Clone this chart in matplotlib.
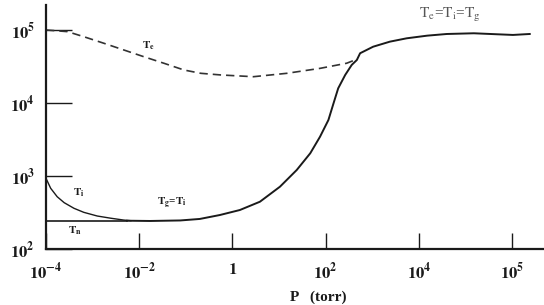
import numpy as np
import matplotlib
matplotlib.use("Agg")
import matplotlib.pyplot as plt

plt.rcParams['mathtext.fontset'] = 'stix'
plt.rcParams['font.family'] = ['Liberation Serif', 'DejaVu Serif']

# pressure (torr) and temperature (K)
# gas / ion temperature, which joins the electron one at high pressure
p_tg = [10**-2.26, 10**-1.77, 10**-1.12, 10**-0.70, 10**-0.27, 10**0.16, 10**0.59,
        10**1.02, 10**1.38, 10**1.67, 10**1.88, 10**2.06, 10**2.17, 10**2.27,
        10**2.42, 10**2.56, 10**2.67, 10**2.74, 10**3.02, 10**3.38, 10**3.74,
        10**4.09, 10**4.30, 10**4.59, 10**4.84, 10**5.01, 10**5.19]
t_tg = [244, 242, 246, 258, 292, 342, 444, 713, 1208, 2046, 3451, 5848, 9910,
        15890, 24200, 33200, 38800, 48000, 59000, 69200, 76900, 83600, 88100,
        90100, 87300, 85500, 88100]

# electron temperature (dashed)
p_te = [1e-4, 10**-3.54, 10**-3.19, 10**-2.76, 10**-2.33, 10**-1.90, 10**-1.47,
        10**-1.04, 10**-0.68, 10**-0.25, 10**0.45, 10**1.17, 10**1.88, 10**2.45,
        10**2.63]
t_te = [100000, 94900, 80900, 65800, 53200, 43000, 35000, 28300, 25500, 24200,
        22900, 25500, 29800, 35000, 38800]

# ion temperature at low pressure
p_ti = [1e-4, 10**-3.90, 10**-3.76, 10**-3.61, 10**-3.40, 10**-3.19, 10**-2.90,
        10**-2.61, 10**-2.33, 10**-2.18]
t_ti = [929, 679, 520, 431, 361, 318, 283, 264, 249, 244]

# neutral temperature
p_tn = [1e-4, 10**-2.26]
t_tn = [244, 244]

xticks = [1e-4, 1e-2, 1, 1e2, 1e4, 1e5]
xlabels = [r'$\mathbf{10^{-4}}$', r'$\mathbf{10^{-2}}$', r'$\mathbf{1}$',
           r'$\mathbf{10^{2}}$', r'$\mathbf{10^{4}}$', r'$\mathbf{10^{5}}$']
yticks = [1e2, 1e3, 1e4, 1e5]
ylabels = [r'$\mathbf{10^{2}}$', r'$\mathbf{10^{3}}$', r'$\mathbf{10^{4}}$',
           r'$\mathbf{10^{5}}$']


# the sketch squeezes two decades per tick up to 1e4, then one decade
def fwd(p):
    l = np.log10(np.clip(p, 1e-300, None))
    return np.where(l <= 4, (l + 4) / 2, l)


def inv(u):
    u = np.asarray(u, dtype=float)
    return np.where(u <= 4, 10 ** (2 * u - 4), 10 ** u)


fig = plt.figure(figsize=(5.44, 3.05), dpi=100)
ax = fig.add_axes([46 / 544, 1 - 249 / 305, 1 - 46 / 544, (249 - 5) / 305])
ax.set_xscale('function', functions=(fwd, inv))
ax.set_yscale('log')

col = '#1a1a1a'
ax.plot(p_tg, t_tg, color=col, lw=1.4, solid_joinstyle='round')
ax.plot(p_te, t_te, color='#333333', lw=1.2, ls=(0, (5, 3)))
ax.plot(p_ti, t_ti, color=col, lw=1.0, solid_joinstyle='round')
ax.plot(p_tn, t_tn, color=col, lw=1.2)

ax.set_xlim(1e-4, 10**5.343)
ax.set_ylim(1e2, 10**5.342)

ax.set_xticks(xticks)
ax.set_xticklabels(xlabels, fontsize=12)
ax.set_yticks(yticks)
ax.set_yticklabels(ylabels, fontsize=12)
ax.minorticks_off()
ax.tick_params(axis='x', direction='in', length=11.5, width=1, pad=9, colors=col)
ax.tick_params(axis='y', direction='in', length=18.5, width=1, pad=8, colors=col)

for s in ['top', 'right']:
    ax.spines[s].set_visible(False)
for s in ['left', 'bottom']:
    ax.spines[s].set_linewidth(1.6)
    ax.spines[s].set_color(col)

# curve labels
ax.text(10**-1.8, 10**4.79, r'$\mathbf{T_e}$', fontsize=8, ha='center', va='center', color=col)
ax.text(10**-3.3, 10**2.77, r'$\mathbf{T_i}$', fontsize=8, ha='center', va='center', color=col)
ax.text(10**-3.37, 10**2.25, r'$\mathbf{T_n}$', fontsize=8, ha='center', va='center', color=col)
ax.text(10**-1.3, 10**2.63, r'$\mathbf{T_g}$=$\mathbf{T_i}$', fontsize=8, fontweight='bold',
        ha='center', va='center', color=col)
ax.text(10**4.0, 10**5.2, r'$\mathrm{T_e}$=$\mathrm{T_i}$=$\mathrm{T_g}$', fontsize=11,
        ha='left', va='center', color='#555555')

fig.text(318 / 544, 1 - 297 / 305, 'P   (torr)', fontsize=11, fontweight='bold',
         ha='center', va='center', color=col)

fig.savefig('out.png', dpi=100)
